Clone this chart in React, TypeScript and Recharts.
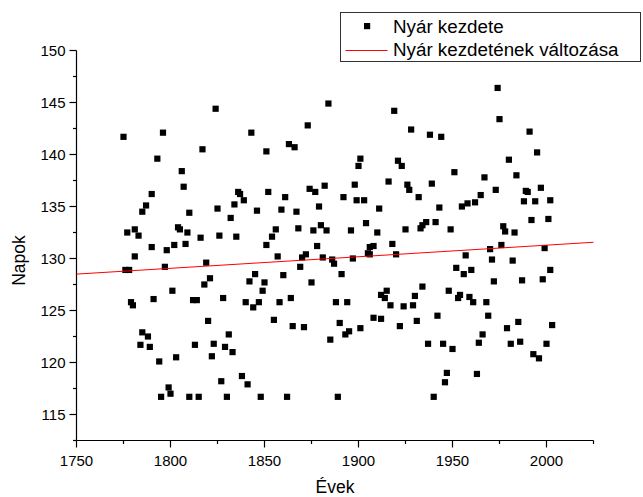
import React from 'react';
import { ScatterChart, Scatter, XAxis, YAxis, Legend } from 'recharts';

// Observed first day of summer (day of year) per year
const years = [
  1775, 1776, 1777, 1778, 1779, 1780, 1781, 1781, 1783, 1784, 1785, 1785, 1787, 1788, 1789, 1790,
  1790, 1791, 1793, 1794, 1795, 1796, 1797, 1798, 1799, 1800, 1801, 1802, 1803, 1804, 1805, 1806,
  1807, 1808, 1809, 1810, 1810, 1812, 1813, 1814, 1815, 1816, 1817, 1818, 1819, 1820, 1821, 1822,
  1823, 1824, 1825, 1826, 1827, 1828, 1829, 1830, 1831, 1832, 1833, 1834, 1835, 1836, 1837, 1838,
  1839, 1840, 1841, 1842, 1843, 1844, 1845, 1846, 1847, 1848, 1849, 1850, 1851, 1851, 1852, 1854,
  1855, 1856, 1857, 1858, 1859, 1860, 1861, 1862, 1863, 1864, 1865, 1866, 1867, 1868, 1869, 1870,
  1871, 1872, 1873, 1874, 1875, 1876, 1877, 1878, 1879, 1880, 1881, 1882, 1883, 1884, 1885, 1886,
  1887, 1888, 1889, 1890, 1891, 1892, 1893, 1894, 1895, 1896, 1897, 1898, 1899, 1900, 1901, 1901,
  1903, 1904, 1905, 1906, 1906, 1908, 1908, 1910, 1911, 1912, 1912, 1914, 1915, 1916, 1917, 1918,
  1919, 1920, 1921, 1922, 1923, 1924, 1925, 1926, 1927, 1928, 1929, 1930, 1931, 1932, 1933, 1934,
  1934, 1936, 1937, 1938, 1939, 1940, 1941, 1942, 1943, 1944, 1945, 1946, 1947, 1948, 1949, 1950,
  1951, 1952, 1953, 1954, 1955, 1956, 1957, 1958, 1959, 1960, 1961, 1962, 1963, 1964, 1965, 1966,
  1967, 1968, 1969, 1970, 1971, 1972, 1973, 1974, 1975, 1976, 1977, 1978, 1979, 1980, 1981, 1982,
  1983, 1984, 1985, 1986, 1987, 1988, 1989, 1990, 1991, 1992, 1993, 1994, 1995, 1996, 1997, 1998,
  1999, 2000, 2001, 2002, 2002, 2003,
];

const summerStart = [
  141.7, 128.9, 132.5, 128.9, 125.8, 125.5, 132.8, 130.2, 132.2, 121.7, 134.5, 122.9, 135.1, 122.5, 121.5, 136.2,
  131.1, 126.1, 139.6, 120.1, 116.7, 142.1, 129.2, 130.8, 117.6, 117.0, 126.9, 131.3, 120.5, 133.0, 132.8, 138.4,
  136.9, 131.4, 132.5, 134.4, 116.7, 126.0, 121.7, 126.0, 116.7, 132.0, 140.5, 127.5, 129.6, 124.0, 128.1, 120.6,
  121.8, 144.4, 134.8, 132.2, 118.2, 126.2, 121.5, 116.7, 122.7, 133.9, 121.0, 135.2, 132.1, 136.4, 136.2, 118.7,
  135.6, 125.8, 117.9, 127.8, 142.1, 125.3, 128.5, 134.6, 125.8, 116.7, 126.9, 127.7, 140.3, 131.3, 136.4, 132.1,
  124.1, 132.8, 130.2, 125.8, 134.7, 128.4, 135.9, 116.7, 141.0, 126.2, 123.5, 140.7, 134.5, 132.9, 129.2, 130.1,
  123.4, 130.4, 142.8, 136.7, 127.7, 132.7, 136.4, 131.2, 135.0, 133.2, 130.1, 137.0, 132.7, 144.9, 122.2, 129.9,
  129.5, 125.8, 116.7, 123.8, 128.5, 135.9, 122.7, 125.8, 123.0, 132.7, 130.0, 137.1, 135.6, 138.9, 139.6, 123.3,
  135.6, 133.4, 130.5, 131.1, 130.4, 131.2, 124.3, 132.5, 134.8, 126.5, 124.2, 126.2, 126.9, 137.4, 125.5, 131.4,
  144.2, 130.4, 139.4, 123.5, 138.9, 125.4, 132.8, 137.1, 136.6, 142.4, 125.5, 126.4, 124.0, 135.9, 132.9, 133.2,
  127.3, 133.5, 121.8, 141.9, 137.2, 116.7, 133.5, 124.5, 134.9, 141.7, 121.8, 118.1, 119.0, 126.9, 132.8, 121.3,
  138.3, 129.1, 126.2, 126.5, 135.0, 128.5, 130.3, 135.3, 126.3, 128.9, 125.8, 135.4, 118.9, 121.9, 136.1, 122.7,
  137.8, 125.8, 124.5, 130.9, 129.9, 127.8, 136.6, 146.4, 143.4, 131.3, 133.1, 132.6, 123.3, 139.5, 121.8, 129.8,
  132.5, 138.0, 123.9, 122.0, 127.9, 135.5, 136.5, 136.4, 142.2, 133.7, 120.8, 135.5, 140.2, 120.4, 136.8, 128.0,
  131.0, 121.8, 133.8, 135.6, 128.9, 123.6,
];

// Linear fit endpoints
const trendYears = [1750, 2025];
const trendDays = [128.5, 131.56];

const xTicks = [1750, 1775, 1800, 1825, 1850, 1875, 1900, 1925, 1950, 1975, 2000, 2025];
const yTicks = [112.5, 115, 117.5, 120, 122.5, 125, 127.5, 130, 132.5, 135, 137.5, 140, 142.5, 145, 147.5, 150];

const seriesNames = ['Nyár kezdete', 'Nyár kezdetének változása'];

const points = years.map((year, i) => ({ year, day: summerStart[i] }));
const trend = trendYears.map((year, i) => ({ year, day: trendDays[i] }));

const font = '"Liberation Sans", Arial, sans-serif';

const SquareDot = (props: any) => {
  const { cx, cy } = props;
  return <rect x={cx - 3.1} y={cy - 3.1} width={6.2} height={6.2} fill="#000" />;
};

const XTick = (props: any) => {
  const { x, y, payload } = props;
  const major = payload.value % 50 === 0;
  return (
    <g>
      <line x1={x} y1={y} x2={x} y2={y + (major ? 7 : 3.5)} stroke="#000" strokeWidth={1.2} />
      {major && (
        <text x={x} y={y + 25.5} textAnchor="middle" fontSize={15} fontFamily={font} fill="#000">
          {payload.value}
        </text>
      )}
    </g>
  );
};

const YTick = (props: any) => {
  const { x, y, payload } = props;
  const major = payload.value % 5 === 0;
  return (
    <g>
      <line x1={x} y1={y} x2={x - (major ? 7 : 3.5)} y2={y} stroke="#000" strokeWidth={1.2} />
      {major && (
        <text x={x - 11} y={y + 5.3} textAnchor="end" fontSize={15} fontFamily={font} fill="#000">
          {payload.value}
        </text>
      )}
    </g>
  );
};

const LegendBox = () => (
  <svg width={302} height={51} style={{ display: 'block' }}>
    <rect x={0.5} y={0.5} width={300} height={49} fill="#fff" stroke="#333" />
    <rect x={24} y={11} width={6.2} height={6.2} fill="#000" />
    <text x={53} y={21} fontSize={18.8} fontFamily={font} fill="#000">{seriesNames[0]}</text>
    <line x1={5.5} y1={38.5} x2={47.5} y2={38.5} stroke="#ff0000" />
    <text x={53} y={43.5} fontSize={18.8} fontFamily={font} fill="#000">{seriesNames[1]}</text>
  </svg>
);

const App: React.FC = () => {
  return (
    <div style={{ position: 'absolute', left: 0, top: 0, width: 643, height: 497, background: '#fff' }}>
      <ScatterChart width={643} height={497} margin={{ top: 50.5, right: 49.5, bottom: 0, left: 0 }}>
        <XAxis
          type="number"
          dataKey="year"
          domain={[1750, 2025]}
          ticks={xTicks}
          interval={0}
          height={56.5}
          tickSize={0}
          tickMargin={0}
          tickLine={false}
          tick={<XTick />}
          axisLine={{ stroke: '#000', strokeWidth: 1.2 }}
          label={{ value: 'Évek', position: 'center', dy: 18, fontSize: 17.5, fontFamily: font, fill: '#000' }}
        />
        <YAxis
          type="number"
          dataKey="day"
          domain={[112.5, 150]}
          ticks={yTicks}
          interval={0}
          width={76.5}
          tickSize={0}
          tickMargin={0}
          tickLine={false}
          tick={<YTick />}
          axisLine={{ stroke: '#000', strokeWidth: 1.2 }}
          label={{ value: 'Napok', angle: -90, position: 'center', dx: -19, dy: 15, fontSize: 17.5, fontFamily: font, fill: '#000' }}
        />
        <Scatter
          name={seriesNames[0]}
          data={points}
          fill="#000"
          shape={<SquareDot />}
          isAnimationActive={false}
        />
        <Scatter
          name={seriesNames[1]}
          data={trend}
          fill="#ff0000"
          line={{ stroke: '#ff0000', strokeWidth: 1 }}
          shape={() => <g />}
          isAnimationActive={false}
        />
        <Legend
          layout="horizontal"
          verticalAlign="middle"
          align="center"
          wrapperStyle={{ left: 340, top: 12, width: 302, height: 51 }}
          content={() => <LegendBox />}
        />
      </ScatterChart>
    </div>
  );
};

export default App;
